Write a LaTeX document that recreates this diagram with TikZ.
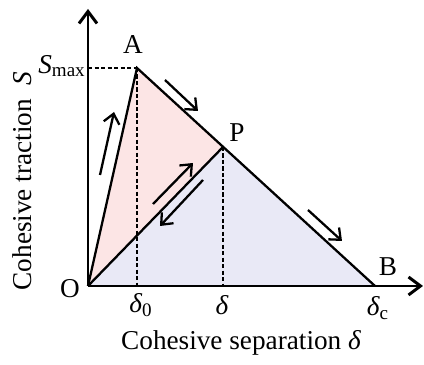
\documentclass[tikz,border=0pt]{standalone}
\usepackage{fontspec}
\setmainfont{Liberation Serif}
\usepackage{xcolor}
\usepackage{tikz}
\usetikzlibrary{arrows.meta,calc}
\definecolor{LoadPink}{HTML}{FCE5E5}
\definecolor{UnloadBlue}{HTML}{E9E9F6}
\definecolor{Ink}{HTML}{000000}
\newcommand{\dlt}{{\itshape δ}}

\begin{document}
\begin{tikzpicture}[
  x=0.02cm,y=0.02cm,
  font=\fontsize{15.5}{18}\selectfont,
  axis/.style={-{Straight Barb[length=2.4mm,width=3.6mm]},draw=Ink,line width=1.7pt},
  law/.style={draw=Ink,line width=1.3pt,line join=miter},
  guide/.style={draw=Ink,dashed,dash pattern=on 2.3pt off 1.4pt,line width=0.7pt},
  path arrow/.style={-{Straight Barb[length=1.9mm,width=3.2mm]},draw=Ink,line width=1.3pt},
  lbl/.style={inner sep=0pt}
]
  \useasboundingbox (0,0) rectangle (424,365);

  % key points of the bilinear law
  \coordinate (O) at (88,79);
  \coordinate (A) at (137,297);
  \coordinate (P) at (223,218);
  \coordinate (B) at (375,79);
  \coordinate (ytop) at (88,356);
  \coordinate (xend) at (423,79);
  \coordinate (d0) at (137,79);
  \coordinate (dp) at (223,79);

  % energy regions
  \fill[LoadPink] (O) -- (A) -- (P) -- cycle;
  \fill[UnloadBlue] (O) -- (P) -- (B) -- cycle;

  % guide lines
  \draw[guide] (88,297) -- (A);
  \draw[guide] (A) -- (d0);
  \draw[guide] (P) -- (dp);

  % traction-separation law
  \draw[law] (O) -- (A) -- (B);
  \draw[law] (O) -- (P);

  \draw[axis] (O) -- (ytop);
  \draw[axis] (O) -- (xend);

  % loading / unloading directions
  \coordinate (up1s) at (100,190);
  \coordinate (up1e) at (114,253);
  \coordinate (dn1s) at (165,285);
  \coordinate (dn1e) at (198,254);
  \coordinate (dn2s) at (308,155);
  \coordinate (dn2e) at (342,124);
  \coordinate (rls) at (153,161);
  \coordinate (rle) at (193,202);
  \coordinate (uls) at (203,185);
  \coordinate (ule) at (160,139);
  \draw[path arrow] (up1s) -- (up1e);
  \draw[path arrow] (dn1s) -- (dn1e);
  \draw[path arrow] (dn2s) -- (dn2e);
  \draw[path arrow] (rls) -- (rle);
  \draw[path arrow] (uls) -- (ule);

  % point labels
  \node[lbl] (labA) at (133,320) {A};
  \node[lbl] (labP) at (237,232) {P};
  \node[lbl] (labB) at (388,98) {B};
  \node[lbl] (labO) at (70,76) {O};
  \node[lbl,anchor=east] (labS) at (86,299) {\itshape S\textsubscript{\upshape max}};

  \node[lbl] (labd0) at (141,60) {\dlt\textsubscript{0}};
  \node[lbl] (labd) at (222,60) {\dlt};
  \node[lbl] (labdc) at (378,57) {\dlt\textsubscript{c}};

  % axis titles
  \node[lbl] (xtitle) at (241,22) {Cohesive separation \dlt};
  \node[lbl,rotate=90] (ytitle) at (22,184) {Cohesive traction \ \textit{S}};
\end{tikzpicture}
\end{document}
